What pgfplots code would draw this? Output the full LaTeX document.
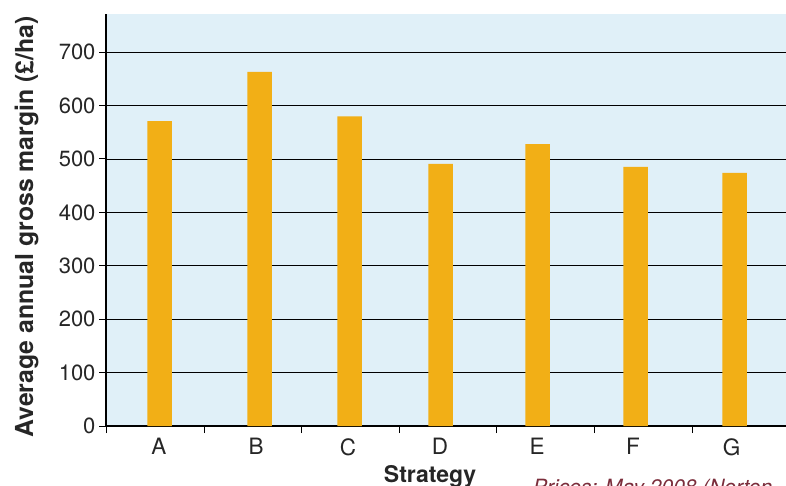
\documentclass[border=0pt]{standalone}
\usepackage{fontspec}
\setmainfont{TeX Gyre Heros}
\usepackage{pgfplots}
\pgfplotsset{compat=1.18}
\definecolor{bgblue}{HTML}{E0F0F8}
\definecolor{barorange}{HTML}{F2AF16}
\definecolor{srcred}{HTML}{7B2D3B}
\begin{document}
\begin{tikzpicture}[x=1pt,y=1pt]
\begin{axis}[
  at={(106pt,-426pt)}, anchor=south west,
  scale only axis, width=680pt, height=412pt,
  xmin=106, xmax=786, ymin=0, ymax=771.5,
  axis x line*=bottom, axis y line*=left,
  axis line style={-, black, line width=1.5pt},
  axis background/.style={fill=bgblue},
  ymajorgrids, grid style={black, line width=0.9pt},
  ytick={0,100,...,700},
  xtick={106.7,204,301.7,399,496.7,594,692},
  xticklabels={},
  extra x ticks={159,256,348,440,537,633,731.7},
  extra x tick labels={A,B,C,D,E,F,G},
  extra x tick style={major tick length=0pt, xmajorgrids=false,
    xticklabel style={yshift=-9pt}},
  tick align=outside, major tick length=7pt,
  tick style={black, line width=1pt},
  /pgf/number format/assume math mode=true,
  yticklabel style={font=\fontsize{22}{24}\selectfont, color=black!85},
  xticklabel style={font=\fontsize{22.5}{24}\selectfont, color=black!85},
  clip=false,
]
\addplot[ybar, bar width=24.5, fill=barorange, draw=none] coordinates {
  (159.5,571) (259.5,663) (349.5,580) (440.5,491) (537.5,528) (635.5,485) (734.5,474)
};
\end{axis}
\node[rotate=90, anchor=base, font=\bfseries\fontsize{24.8}{28}\selectfont, text=black!85] at (33pt,-227pt) {Average annual gross margin (£/ha)};
\node[anchor=base, font=\bfseries\fontsize{23}{26}\selectfont, text=black!85] at (430pt,-482pt) {Strategy};
\node[anchor=base west, font=\itshape\fontsize{21}{24}\selectfont, text=srcred, inner sep=0pt] at (533pt,-494pt) {Prices: May 2008 (Norton};
\pgfresetboundingbox
\useasboundingbox (0,0) rectangle (786pt,-486pt);
\end{tikzpicture}
\end{document}
